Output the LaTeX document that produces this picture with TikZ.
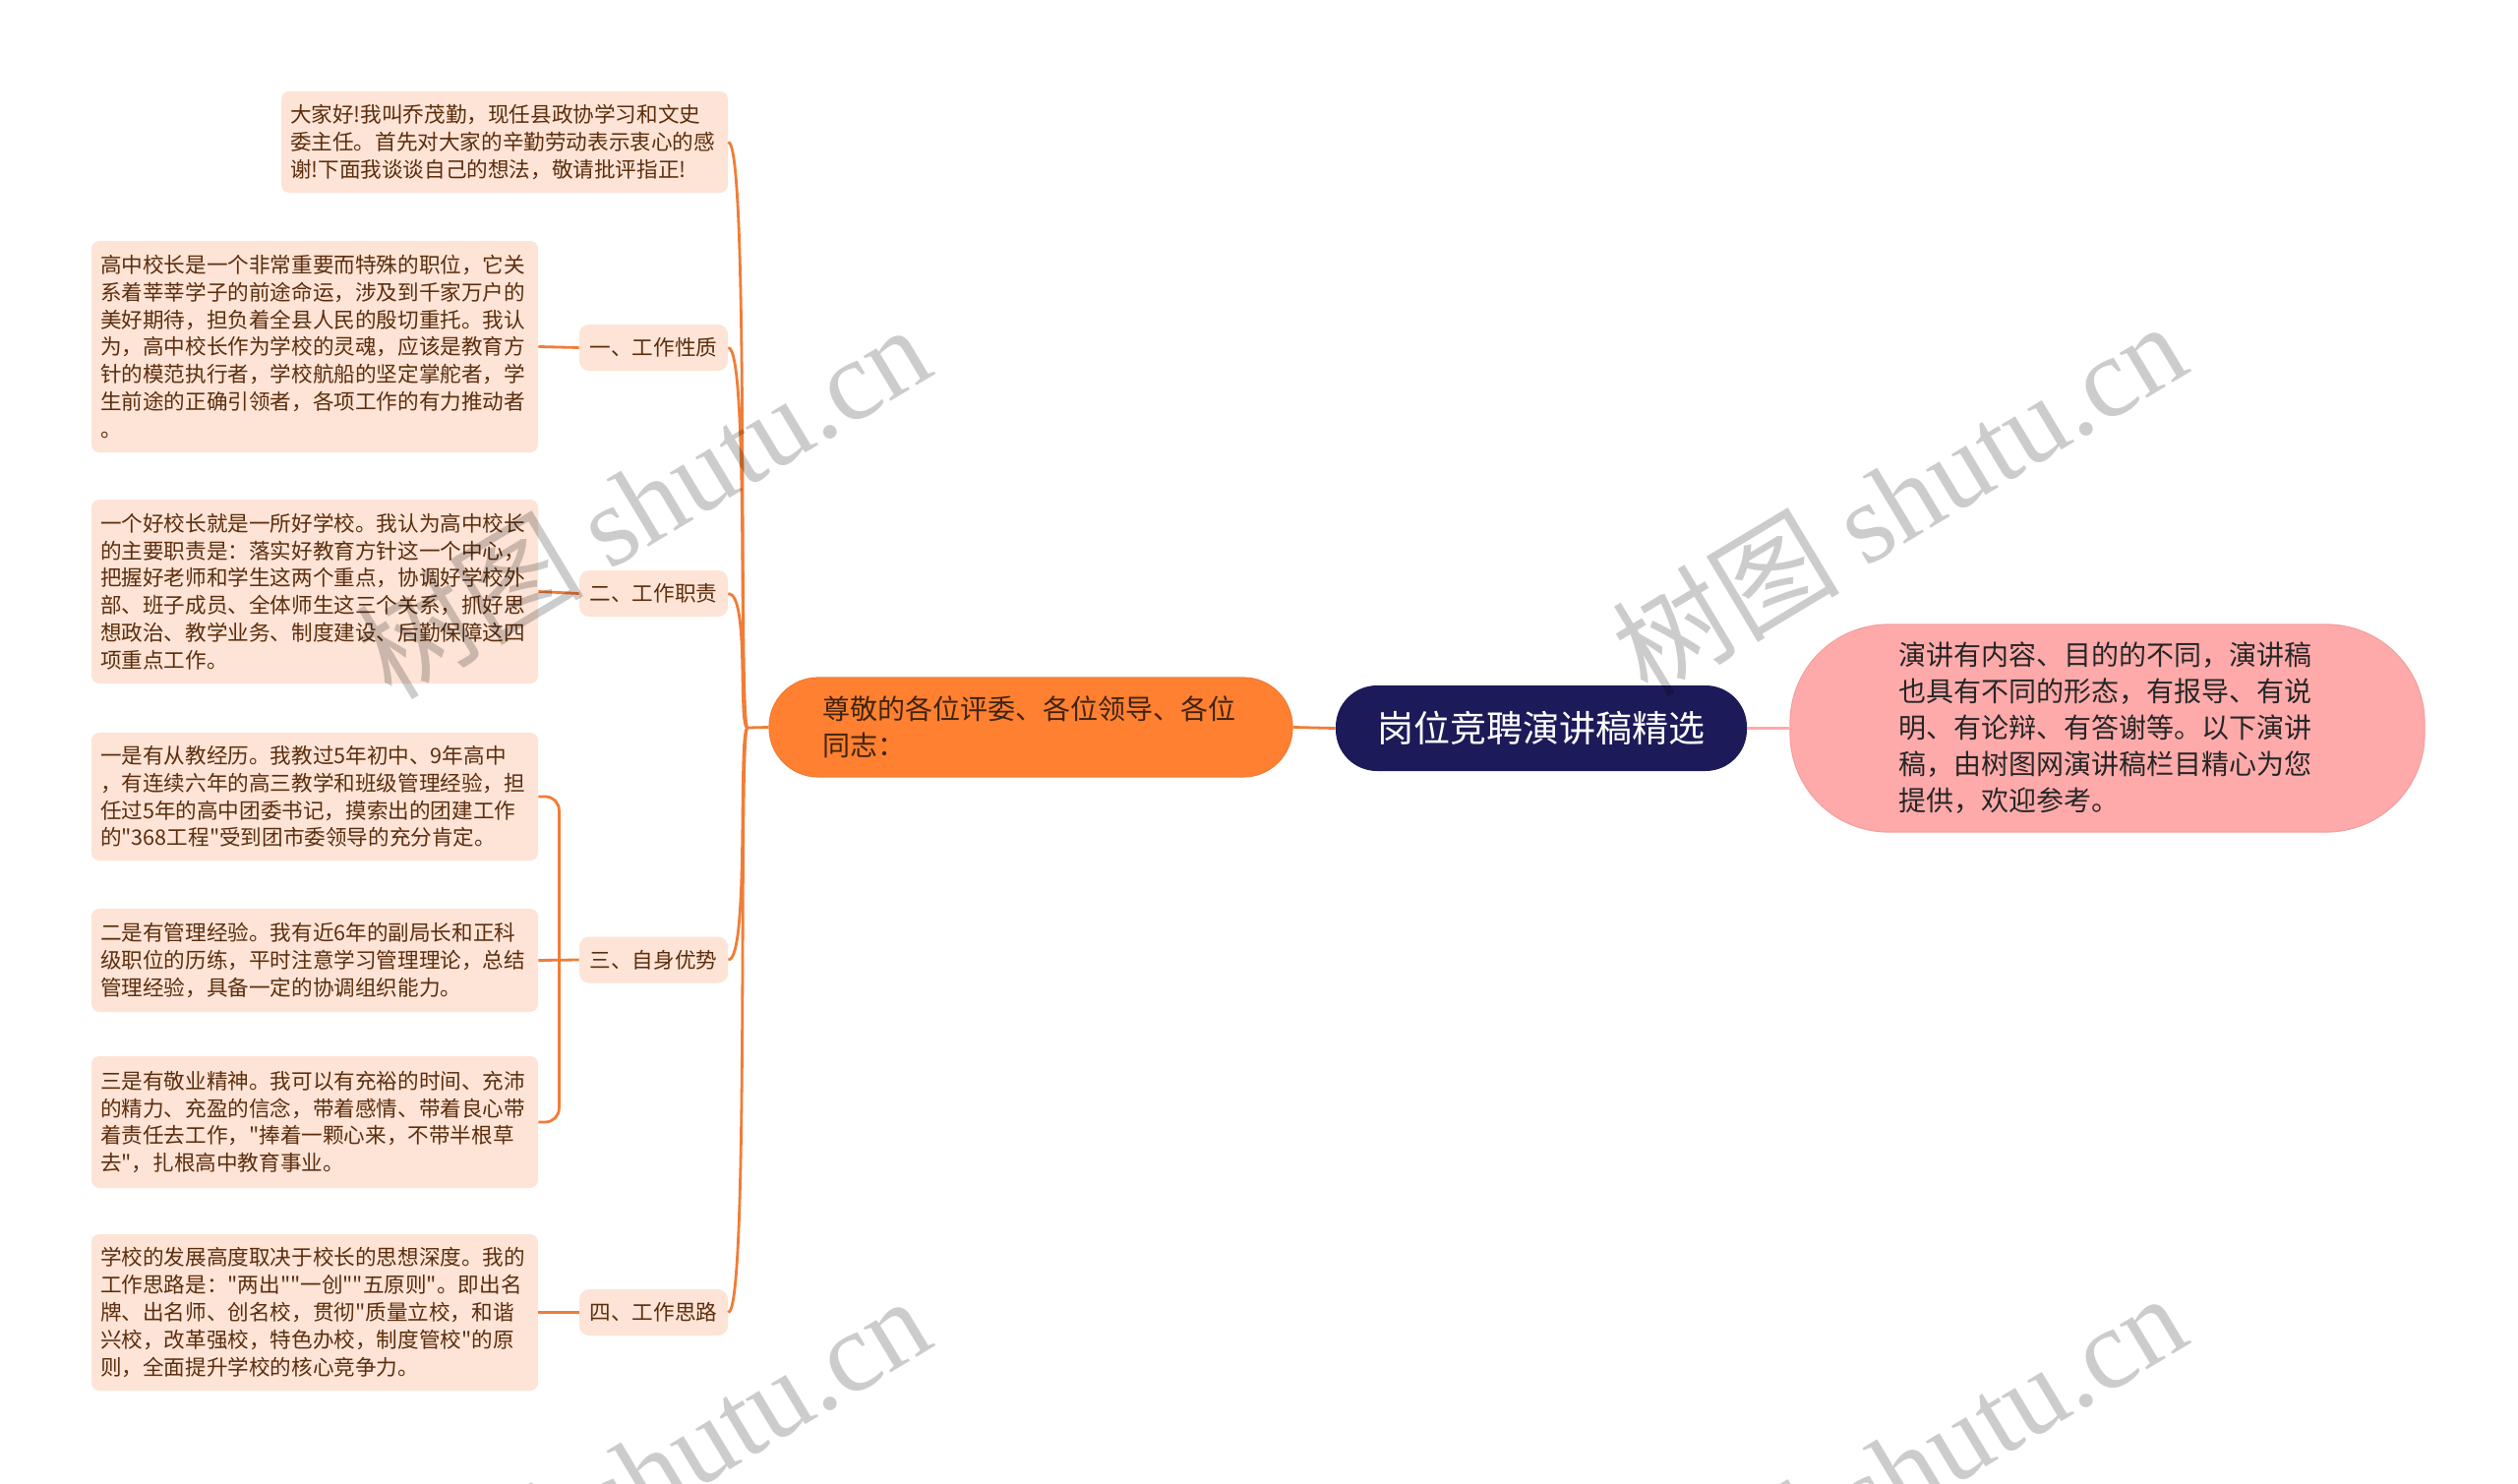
\documentclass[tikz,border=0pt]{standalone}
\usepackage{fontspec}
\newfontfamily\cjk{Noto Sans CJK SC}
\newfontfamily\wmlatin{Liberation Serif}
\definecolor{leaffill}{RGB}{253,228,214}
\definecolor{leaftext}{RGB}{92,46,14}
\definecolor{oline}{RGB}{240,125,55}
\definecolor{orangefill}{RGB}{255,128,48}
\definecolor{orangetext}{RGB}{64,36,16}
\definecolor{navy}{RGB}{28,26,88}
\definecolor{pinkfill}{RGB}{255,170,170}
\definecolor{pinkdraw}{RGB}{245,160,160}
\begin{document}
\begin{tikzpicture}[x=0.5pt,y=-0.5pt,
  leaf/.style={fill=leaffill, rounded corners=4pt, text=leaftext,
    font=\cjk\fontsize{10.8pt}{13.9pt}\selectfont, align=left,
    text width=218pt, inner xsep=4.5pt, inner ysep=0pt, anchor=center},
  lab/.style={fill=leaffill, rounded corners=5pt, text=leaftext,
    font=\cjk\fontsize{10.8pt}{13.9pt}\selectfont,
    minimum width=75.5pt, minimum height=23.5pt, inner sep=0pt},
  conn/.style={draw=oline, line width=1.4pt},
  wm/.style={rotate=31, text=black, opacity=0.2,
    font=\cjk\fontsize{58pt}{60pt}\selectfont}
]
\useasboundingbox (0,0) rectangle (2560,1509);
\fill[white] (0,0) rectangle (2560,1509);

% main nodes
\node[fill=navy, rounded corners=21pt, minimum width=209pt, minimum height=43.5pt,
  text=white, font=\cjk\fontsize{18.5pt}{20pt}\selectfont, inner sep=0pt]
  (center) at (1567,740.5) {岗位竞聘演讲稿精选};
\node[fill=orangefill, draw=oline, line width=0.6pt, rounded corners=25pt,
  minimum width=266pt, minimum height=50.5pt, text=orangetext,
  font=\cjk\fontsize{14pt}{18.75pt}\selectfont, align=left, text width=212pt,
  inner xsep=27pt, inner ysep=0pt]
  (orange) at (1048,739.5) {尊敬的各位评委、各位领导、各位\\同志：};
\node[fill=pinkfill, draw=pinkdraw, line width=0.6pt, rounded corners=50pt,
  minimum width=322.5pt, minimum height=105.5pt, text=black!85,
  font=\cjk\fontsize{14pt}{18.5pt}\selectfont, align=left, text width=212pt,
  inner xsep=55pt, inner ysep=0pt]
  (pink) at (2142.5,740.5) {演讲有内容、目的的不同，演讲稿\\也具有不同的形态，有报导、有说\\明、有论辩、有答谢等。以下演讲\\稿，由树图网演讲稿栏目精心为您\\提供，欢迎参考。};

% labels
\node[lab] (lab1) at (664.5,353.5) {一、工作性质};
\node[lab] (lab2) at (664.5,603.5) {二、工作职责};
\node[lab] (lab3) at (664.5,976) {三、自身优势};
\node[lab] (lab4) at (664.5,1334.5) {四、工作思路};

% leaves
\node[leaf, minimum height=51.5pt] (top) at (513,144.5)
  {大家好!我叫乔茂勤，现任县政协学习和文史\\委主任。首先对大家的辛勤劳动表示衷心的感\\谢!下面我谈谈自己的想法，敬请批评指正!};
\node[leaf, minimum height=107.5pt] (leaf1) at (320,352.5)
  {高中校长是一个非常重要而特殊的职位，它关\\系着莘莘学子的前途命运，涉及到千家万户的\\美好期待，担负着全县人民的殷切重托。我认\\为，高中校长作为学校的灵魂，应该是教育方\\针的模范执行者，学校航船的坚定掌舵者，学\\生前途的正确引领者，各项工作的有力推动者\\。};
\node[leaf, minimum height=93.5pt] (leaf2) at (320,601.5)
  {一个好校长就是一所好学校。我认为高中校长\\的主要职责是：落实好教育方针这一个中心，\\把握好老师和学生这两个重点，协调好学校外\\部、班子成员、全体师生这三个关系，抓好思\\想政治、教学业务、制度建设、后勤保障这四\\项重点工作。};
\node[leaf, minimum height=65pt] (leaf3a) at (320,810)
  {一是有从教经历。我教过5年初中、9年高中\\，有连续六年的高三教学和班级管理经验，担\\任过5年的高中团委书记，摸索出的团建工作\\的"368工程"受到团市委领导的充分肯定。};
\node[leaf, minimum height=52.5pt] (leaf3b) at (320,976.5)
  {二是有管理经验。我有近6年的副局长和正科\\级职位的历练，平时注意学习管理理论，总结\\管理经验，具备一定的协调组织能力。};
\node[leaf, minimum height=67pt] (leaf3c) at (320,1141)
  {三是有敬业精神。我可以有充裕的时间、充沛\\的精力、充盈的信念，带着感情、带着良心带\\着责任去工作，"捧着一颗心来，不带半根草\\去"，扎根高中教育事业。};
\node[leaf, minimum height=79.5pt] (leaf4) at (320,1334.5)
  {学校的发展高度取决于校长的思想深度。我的\\工作思路是："两出""一创""五原则"。即出名\\牌、出名师、创名校，贯彻"质量立校，和谐\\兴校，改革强校，特色办校，制度管校"的原\\则，全面提升学校的核心竞争力。};

% connectors
\coordinate (hub) at (760,740);
\draw[conn] (center.west) -- (orange.east);
\draw[draw=pinkfill, line width=1.4pt] (center.east) -- (pink.west);
\draw[conn] (orange.west) -- (hub);
\foreach \n in {top,lab1,lab2,lab3,lab4}
  \draw[conn] (hub) .. controls +(-10,0) and +(22,0) .. (\n.east);
\draw[conn] (lab1.west) -- (leaf1.east);
\draw[conn] (lab2.west) -- (leaf2.east);
\draw[conn] (lab4.west) -- (leaf4.east);
\draw[conn] (lab3.west) -- (leaf3b.east);
\draw[conn, rounded corners=7pt] (leaf3a.east) -- ++(21,0) |- (leaf3c.east);

% watermarks
\node[wm] (wm1) at (653,509) {树图 {\wmlatin shutu.cn}};
\node[wm] (wm2) at (1930,506) {树图 {\wmlatin shutu.cn}};
\node[wm] (wm3) at (653,1497) {树图 {\wmlatin shutu.cn}};
\node[wm] (wm4) at (1930,1494) {树图 {\wmlatin shutu.cn}};
\end{tikzpicture}
\end{document}
